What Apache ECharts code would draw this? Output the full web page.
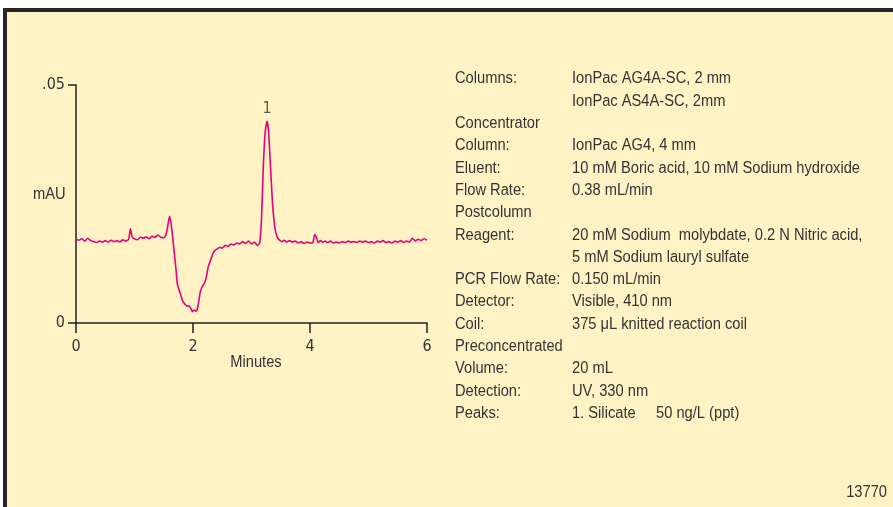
<!DOCTYPE html>
<html>
<head>
<meta charset="utf-8">
<script src="https://cdn.jsdelivr.net/npm/echarts@6/dist/echarts.min.js"></script>
<style>
  html, body { margin: 0; padding: 0; background: #fff; }
  .frame {
    position: absolute; left: 3px; top: 8px; width: 890px; height: 499px;
    box-sizing: border-box; border-left: 4px solid #262626; border-top: 4px solid #262626;
    background: #fff3c6;
  }
  #chart { position: absolute; left: 0; top: 0; width: 893px; height: 507px; }
</style>
</head>
<body>
<div class="frame"></div>
<div id="chart"></div>
<script>
// retention time (min) and absorbance (mAU)
const minutes = [
  0.00, 0.05, 0.10, 0.15, 0.20, 0.25, 0.30, 0.35, 0.40, 0.45, 0.50, 0.55, 0.60, 0.65, 0.70,
  0.75, 0.80, 0.85, 0.90, 0.93, 0.96, 1.00, 1.05, 1.10, 1.15, 1.20, 1.25, 1.30, 1.35, 1.40,
  1.45, 1.50, 1.54, 1.57, 1.60, 1.63, 1.66, 1.69, 1.71, 1.73, 1.76, 1.78, 1.82, 1.86, 1.90,
  1.93, 1.96, 1.99, 2.02, 2.05, 2.08, 2.11, 2.13, 2.16, 2.20, 2.23, 2.26, 2.30, 2.34, 2.38,
  2.42, 2.46, 2.50, 2.55, 2.60, 2.65, 2.70, 2.75, 2.80, 2.85, 2.90, 2.95, 3.00, 3.05, 3.10,
  3.14, 3.17, 3.20, 3.23, 3.265, 3.29, 3.32, 3.36, 3.40, 3.44, 3.48, 3.52, 3.56, 3.60, 3.65,
  3.70, 3.75, 3.80, 3.85, 3.90, 3.95, 4.00, 4.05, 4.08, 4.11, 4.14, 4.18, 4.22, 4.26, 4.30,
  4.35, 4.40, 4.45, 4.50, 4.55, 4.60, 4.65, 4.70, 4.75, 4.80, 4.85, 4.90, 4.95, 5.00, 5.05,
  5.10, 5.15, 5.20, 5.25, 5.30, 5.35, 5.40, 5.45, 5.50, 5.55, 5.60, 5.65, 5.70, 5.75, 5.80,
  5.85, 5.90, 5.95, 6.00
];
const mau = [
  0.0176, 0.0174, 0.0177, 0.0172, 0.0178, 0.0173, 0.0171, 0.0169, 0.0172, 0.0170, 0.0173, 0.0170, 0.0174, 0.0171, 0.0173,
  0.0170, 0.0175, 0.0172, 0.0176, 0.0198, 0.0180, 0.0177, 0.0175, 0.0180, 0.0178, 0.0181, 0.0177, 0.0182, 0.0180, 0.0185,
  0.0180, 0.0179, 0.0186, 0.0205, 0.0224, 0.0205, 0.0172, 0.0135, 0.0112, 0.0084, 0.0070, 0.0063, 0.0047, 0.0040, 0.0035,
  0.0036, 0.0031, 0.0024, 0.0027, 0.0025, 0.0032, 0.0055, 0.0068, 0.0077, 0.0085, 0.0098, 0.0118, 0.0132, 0.0146, 0.0153,
  0.0156, 0.0159, 0.0157, 0.0163, 0.0161, 0.0166, 0.0164, 0.0168, 0.0166, 0.0171, 0.0167, 0.0172, 0.0166, 0.0170, 0.0163,
  0.0168, 0.0215, 0.0322, 0.0395, 0.0424, 0.0405, 0.0340, 0.0250, 0.0200, 0.0180, 0.0174, 0.0171, 0.0174, 0.0170, 0.0173,
  0.0170, 0.0172, 0.0168, 0.0171, 0.0167, 0.0170, 0.0168, 0.0169, 0.0186, 0.0180, 0.0169, 0.0173, 0.0170, 0.0172, 0.0169,
  0.0172, 0.0168, 0.0170, 0.0168, 0.0171, 0.0169, 0.0172, 0.0170, 0.0171, 0.0169, 0.0172, 0.0170, 0.0172, 0.0169, 0.0171,
  0.0168, 0.0172, 0.0170, 0.0173, 0.0169, 0.0171, 0.0168, 0.0172, 0.0170, 0.0173, 0.0169, 0.0172, 0.0170, 0.0178, 0.0172,
  0.0176, 0.0173, 0.0177, 0.0174
];
// peak annotation
const peakNames = ["1"];
const peakTimes = [3.265];
const peakValues = [0.0424];

const xTicks = [0, 2, 4, 6];
const yTicks = [0, 0.05];

const infoLabels = [
  "Columns:", "", "Concentrator", "Column:", "Eluent:", "Flow Rate:", "Postcolumn", "Reagent:", "",
  "PCR Flow Rate:", "Detector:", "Coil:", "Preconcentrated", "Volume:", "Detection:", "Peaks:"
];
const infoValues = [
  "IonPac AG4A-SC, 2 mm", "IonPac AS4A-SC, 2mm", "", "IonPac AG4, 4 mm",
  "10 mM Boric acid, 10 mM Sodium hydroxide", "0.38 mL/min", "",
  "20 mM Sodium  molybdate, 0.2 N Nitric acid,", "5 mM Sodium lauryl sulfate",
  "0.150 mL/min", "Visible, 410 nm", "375 \u03bcL knitted reaction coil", "",
  "20 mL", "UV, 330 nm", "1. Silicate     50 ng/L (ppt)"
];

const FONT = "'Liberation Sans', Arial, sans-serif";
const AXFONT = "'DejaVu Sans Condensed', 'Liberation Sans', sans-serif";
const INK = "#333";
const TRACE = "#e5007d";

// the original uses a condensed face: squeeze a regular one to the same width
const ctx = document.createElement("canvas").getContext("2d");
ctx.font = "16px " + FONT;
const squeeze = 288 / ctx.measureText(infoValues[4]).width;

function txt(str, x, y, align) {
  return { type: "text", x: x, y: y, scaleX: squeeze, silent: true,
    style: { text: str, font: "16px " + FONT, fill: INK, align: align || "left", verticalAlign: "middle" } };
}

const infoText = [];
infoLabels.forEach(function (lab, i) {
  const y = 79 + i * 22.3;
  if (lab) infoText.push(txt(lab, 455, y));
  if (infoValues[i]) infoText.push(txt(infoValues[i], 572, y));
});

const chart = echarts.init(document.getElementById("chart"));
const option = {
  animation: false,
  backgroundColor: "transparent",
  grid: { left: 76, right: 466, top: 85, bottom: 184 },
  xAxis: {
    type: "value",
    min: 0, max: 6, interval: 2,
    axisLine: { lineStyle: { color: "#222", width: 1.5 } },
    axisTick: { length: 10, lineStyle: { color: "#222", width: 1.5 } },
    axisLabel: { margin: 16, fontFamily: AXFONT, fontSize: 16, color: INK,
      formatter: function (v) { return xTicks.indexOf(v) >= 0 ? String(v) : ""; } },
    splitLine: { show: false }
  },
  yAxis: {
    type: "value",
    min: 0, max: 0.05, interval: 0.05,
    axisLine: { show: true, lineStyle: { color: "#222", width: 1.5 } },
    axisTick: { show: true, length: 8, lineStyle: { color: "#222", width: 1.5 } },
    axisLabel: { margin: 11, fontFamily: AXFONT, fontSize: 16, color: INK,
      formatter: function (v) { return v === yTicks[0] ? "0" : ".05"; } },
    splitLine: { show: false }
  },
  series: [
    {
      type: "line",
      data: minutes.map(function (t, i) { return [t, mau[i]]; }),
      showSymbol: false,
      smooth: 0.2,
      lineStyle: { color: TRACE, width: 1.6 },
      silent: true
    },
    {
      type: "scatter",
      data: peakTimes.map(function (t, i) { return [t, peakValues[i]]; }),
      symbolSize: 0,
      label: { show: true, position: "top", distance: 4,
        formatter: function (p) { return peakNames[p.dataIndex]; },
        fontFamily: AXFONT, fontSize: 16, color: INK },
      silent: true
    }
  ],
  graphic: infoText.concat([
    txt("Minutes", 256, 363, "center"),
    txt("mAU", 33, 195),
    txt("13770", 887, 493, "right")
  ])
};
chart.setOption(option);
</script>
</body>
</html>
